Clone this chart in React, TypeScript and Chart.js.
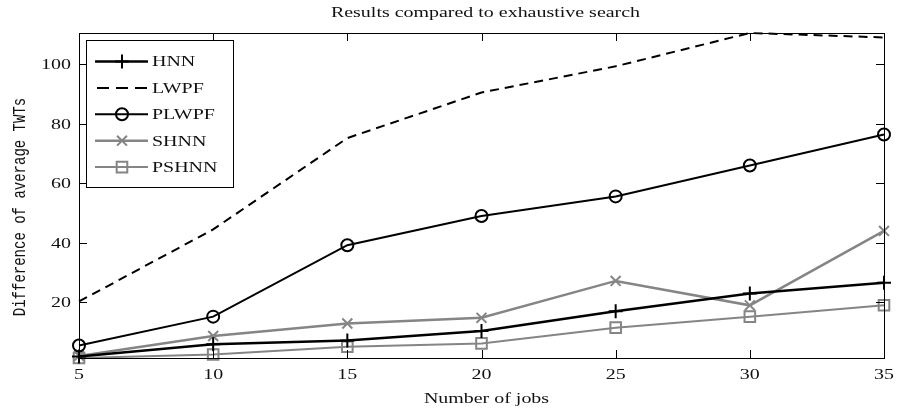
import React, { useEffect, useRef } from "react";
import { Chart, registerables } from "chart.js";

Chart.register(...registerables);

const xValues = [5, 10, 15, 20, 25, 30, 35];
const hnn = [1.8, 5.9, 7.2, 10.4, 17, 23, 26.6];
const lwpf = [20.3, 44.5, 75.2, 90.5, 99.3, 110.5, 109];
const plwpf = [5.5, 15.2, 39.2, 49, 55.6, 66, 76.4];
const shnn = [2.0, 8.7, 12.9, 14.8, 27.2, 19, 44];
const pshnn = [1.3, 2.5, 5.1, 6.2, 11.5, 15.2, 19];

const xTicks = [5, 10, 15, 20, 25, 30, 35];
const yTicks = [20, 40, 60, 80, 100];

const titleText = "Results compared to exhaustive search";
const xLabel = "Number of jobs";
const yLabel = "Difference of average TWTs";

const GRAY = "#858585";
const SX = 1.33;
const SERIF = "15px 'Liberation Serif', 'Times New Roman', serif";

type Series = {
  label: string;
  values: number[];
  color: string;
  width: number;
  dash: number[];
  marker: string;
  radius: number;
};

const seriesList: Series[] = [
  { label: "HNN", values: hnn, color: "#000000", width: 2.5, dash: [], marker: "cross", radius: 7 },
  { label: "LWPF", values: lwpf, color: "#000000", width: 2, dash: [9, 6], marker: "none", radius: 0 },
  { label: "PLWPF", values: plwpf, color: "#000000", width: 2, dash: [], marker: "circle", radius: 6 },
  { label: "SHNN", values: shnn, color: GRAY, width: 2.5, dash: [], marker: "crossRot", radius: 7 },
  { label: "PSHNN", values: pshnn, color: GRAY, width: 2, dash: [], marker: "rect", radius: 7.5 },
];

function stretchedText(
  ctx: CanvasRenderingContext2D,
  text: string,
  x: number,
  y: number,
  align: CanvasTextAlign,
  baseline: CanvasTextBaseline,
  font: string
) {
  ctx.save();
  ctx.translate(x, y);
  ctx.scale(SX, 1);
  ctx.font = font;
  ctx.textAlign = align;
  ctx.textBaseline = baseline;
  ctx.fillStyle = "#111";
  ctx.fillText(text, 0, 0);
  ctx.restore();
}

function drawMarker(ctx: CanvasRenderingContext2D, s: Series, x: number, y: number) {
  const r = s.radius;
  ctx.save();
  ctx.strokeStyle = s.color;
  ctx.lineWidth = 2;
  ctx.setLineDash([]);
  ctx.beginPath();
  if (s.marker === "cross") {
    ctx.moveTo(x - r, y);
    ctx.lineTo(x + r, y);
    ctx.moveTo(x, y - r);
    ctx.lineTo(x, y + r);
  } else if (s.marker === "crossRot") {
    const d = r * Math.SQRT1_2;
    ctx.moveTo(x - d, y - d);
    ctx.lineTo(x + d, y + d);
    ctx.moveTo(x - d, y + d);
    ctx.lineTo(x + d, y - d);
  } else if (s.marker === "circle") {
    ctx.arc(x, y, r, 0, Math.PI * 2);
  } else if (s.marker === "rect") {
    const d = r * Math.SQRT1_2;
    ctx.rect(x - d, y - d, 2 * d, 2 * d);
  }
  ctx.stroke();
  ctx.restore();
}

const decorPlugin = {
  id: "decor",
  afterDatasetsDraw(chart: any) {
    const ctx: CanvasRenderingContext2D = chart.ctx;
    const { left, right, top, bottom } = chart.chartArea;
    const xs = chart.scales.x;
    const ys = chart.scales.y;
    ctx.save();
    // axes box
    ctx.strokeStyle = "#000";
    ctx.lineWidth = 1;
    ctx.setLineDash([]);
    ctx.strokeRect(Math.round(left) + 0.5, Math.round(top) + 0.5, Math.round(right - left), Math.round(bottom - top));
    const tl = 8;
    ctx.beginPath();
    xs.ticks.forEach((t: any) => {
      const px = Math.round(xs.getPixelForValue(t.value)) + 0.5;
      ctx.moveTo(px, bottom);
      ctx.lineTo(px, bottom - tl);
      ctx.moveTo(px, top);
      ctx.lineTo(px, top + tl);
    });
    ys.ticks.forEach((t: any) => {
      const py = Math.round(ys.getPixelForValue(t.value)) + 0.5;
      ctx.moveTo(left, py);
      ctx.lineTo(left + tl, py);
      ctx.moveTo(right, py);
      ctx.lineTo(right - tl, py);
    });
    ctx.stroke();

    // tick labels
    xs.ticks.forEach((t: any) => {
      const px = xs.getPixelForValue(t.value);
      stretchedText(ctx, String(t.value), px, bottom + 21, "center", "alphabetic", SERIF);
    });
    ys.ticks.forEach((t: any) => {
      const py = ys.getPixelForValue(t.value);
      stretchedText(ctx, String(t.value), left - 8, py + 1, "right", "middle", SERIF);
    });

    // titles
    const cx = (left + right) / 2;
    stretchedText(ctx, titleText, cx + 4, 17, "center", "alphabetic", SERIF);
    stretchedText(ctx, xLabel, cx + 5, 403, "center", "alphabetic", SERIF);

    ctx.save();
    ctx.translate(20, 207);
    ctx.scale(SX, 1);
    ctx.rotate(-Math.PI / 2);
    ctx.font = "14px 'Liberation Mono', 'Courier New', monospace";
    ctx.textAlign = "center";
    ctx.textBaseline = "middle";
    ctx.fillStyle = "#111";
    ctx.fillText(yLabel, 0, 0);
    ctx.restore();

    // legend
    const bx = 86.5, by = 40.5, bw = 147, bh = 147;
    ctx.fillStyle = "#fff";
    ctx.fillRect(bx, by, bw, bh);
    ctx.strokeStyle = "#000";
    ctx.lineWidth = 1;
    ctx.strokeRect(bx, by, bw, bh);
    seriesList.forEach((s, i) => {
      const y = 61.5 + i * 26.4;
      ctx.save();
      ctx.strokeStyle = s.color;
      ctx.lineWidth = s.width;
      ctx.setLineDash(s.dash.length ? [12, 7] : []);
      ctx.beginPath();
      ctx.moveTo(s.dash.length ? 97 : 95, y);
      ctx.lineTo(148, y);
      ctx.stroke();
      ctx.restore();
      drawMarker(ctx, s, 122, y);
      stretchedText(ctx, s.label, 152, y + 1, "left", "middle", SERIF);
    });
    ctx.restore();
  },
};

export default function App() {
  const ref = useRef<HTMLCanvasElement | null>(null);
  useEffect(() => {
    if (!ref.current) return;
    const chart = new Chart(ref.current, {
      type: "line",
      data: {
        datasets: seriesList.map((s) => ({
          label: s.label,
          data: xValues.map((x, i) => ({ x, y: s.values[i] })),
          borderColor: s.color,
          backgroundColor: "transparent",
          borderWidth: s.width,
          borderDash: s.dash,
          pointStyle: s.marker === "none" ? false : (s.marker as any),
          pointRadius: s.radius,
          pointBorderWidth: 2,
          pointBorderColor: s.color,
          pointBackgroundColor: "rgba(0,0,0,0)",
          tension: 0,
          clip: false as any,
          fill: false,
        })),
      },
      options: {
        animation: false,
        responsive: false,
        maintainAspectRatio: false,
        layout: { padding: { top: 33, right: 24, left: 0, bottom: 0 } },
        plugins: {
          legend: { display: false },
          title: { display: false },
          tooltip: { enabled: false },
        },
        scales: {
          x: {
            type: "linear",
            min: 5,
            max: 35,
            grid: { display: false, drawTicks: false },
            border: { display: false },
            ticks: { display: false },
            afterBuildTicks: (scale: any) => {
              scale.ticks = xTicks.map((v) => ({ value: v }));
            },
            afterFit: (scale: any) => {
              scale.height = 56;
            },
          },
          y: {
            type: "linear",
            min: 1.3,
            max: 110.5,
            grid: { display: false, drawTicks: false },
            border: { display: false },
            ticks: { display: false },
            afterBuildTicks: (scale: any) => {
              scale.ticks = yTicks.map((v) => ({ value: v }));
            },
            afterFit: (scale: any) => {
              scale.width = 79;
            },
          },
        },
      },
      plugins: [decorPlugin],
    });
    return () => chart.destroy();
  }, []);
  return (
    <div style={{ position: "fixed", left: 0, top: 0, width: 908, height: 414, background: "#fff" }}>
      <canvas ref={ref} width={908} height={414} style={{ display: "block", width: 908, height: 414 }} />
    </div>
  );
}
